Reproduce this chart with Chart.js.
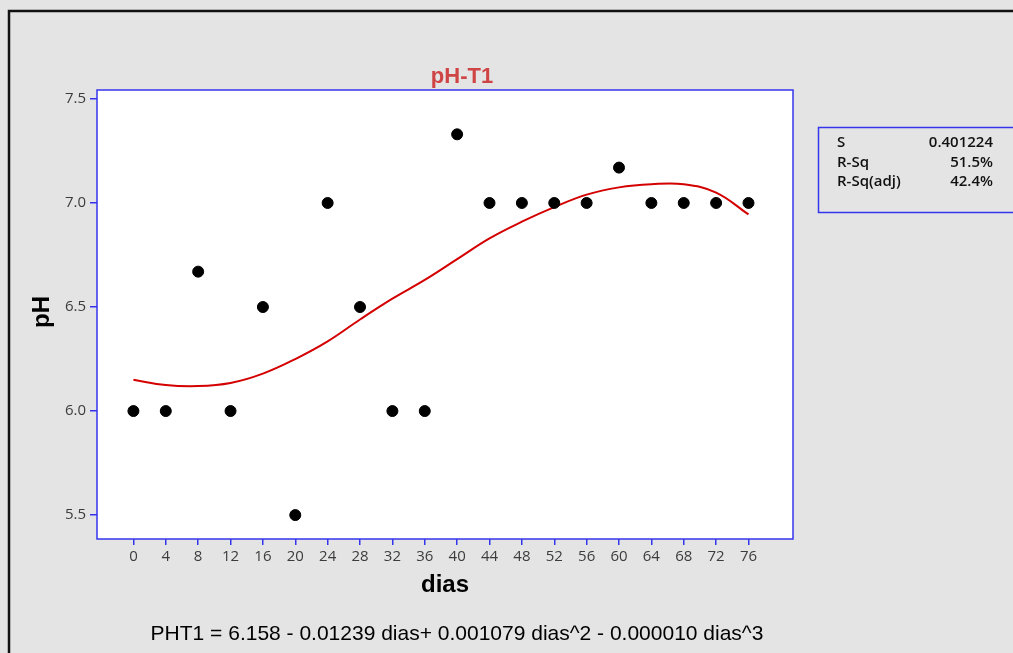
<!DOCTYPE html>
<html>
<head>
<meta charset="utf-8">
<title>pH-T1</title>
<script src="https://cdn.jsdelivr.net/npm/chart.js@4.4.0/dist/chart.umd.min.js"></script>
<style>
  body { margin: 0; background: #e4e4e4; }
  #wrap { width: 1013px; height: 653px; }
</style>
</head>
<body>
<div id="wrap"><canvas id="phChart" width="1013" height="653"></canvas></div>
<script>
// observed values
const dias = [0, 4, 8, 12, 16, 20, 24, 28, 32, 36, 40, 44, 48, 52, 56, 60, 64, 68, 72, 76];
const phValues = [6.0, 6.0, 6.67, 6.0, 6.5, 5.5, 7.0, 6.5, 6.0, 6.0, 7.33, 7.0, 7.0, 7.0, 7.0, 7.17, 7.0, 7.0, 7.0, 7.0];

// fitted curve
const fitDias = [0, 4, 8, 12, 16, 20, 24, 28, 32, 36, 40, 44, 48, 52, 56, 60, 64, 68, 72, 76];
const fitValues = [6.15, 6.125, 6.12, 6.135, 6.18, 6.25, 6.335, 6.44, 6.54, 6.63, 6.73, 6.83, 6.91, 6.98, 7.04, 7.075, 7.09, 7.09, 7.05, 6.945];

const xTicks = [0, 4, 8, 12, 16, 20, 24, 28, 32, 36, 40, 44, 48, 52, 56, 60, 64, 68, 72, 76];
const yTicks = [5.5, 6.0, 6.5, 7.0, 7.5];

const statLabels = ["S", "R-Sq", "R-Sq(adj)"];
const statValues = ["0.401224", "51.5%", "42.4%"];

const chartTitle = "pH-T1";
const xTitle = "dias";
const yTitle = "pH";
const equation = "PHT1 = 6.158 - 0.01239 dias+ 0.001079 dias^2 - 0.000010 dias^3";

const blue = "#3535ee";

const decorPlugin = {
  id: "decor",
  beforeDraw(chart) {
    const ctx = chart.ctx;
    const a = chart.chartArea;
    ctx.save();
    ctx.fillStyle = "#e4e4e4";
    ctx.fillRect(0, 0, chart.width, chart.height);
    // outer frame
    ctx.strokeStyle = "#111";
    ctx.lineWidth = 2.5;
    ctx.beginPath();
    ctx.moveTo(9, chart.height);
    ctx.lineTo(9, 11);
    ctx.lineTo(chart.width, 11);
    ctx.stroke();
    ctx.fillStyle = "#ffffff";
    ctx.fillRect(a.left, a.top, a.right - a.left, a.bottom - a.top);
    ctx.restore();
  },
  afterDraw(chart) {
    const ctx = chart.ctx;
    const a = chart.chartArea;
    ctx.save();
    ctx.strokeStyle = blue;
    ctx.lineWidth = 1.5;
    ctx.strokeRect(a.left, a.top, a.right - a.left, a.bottom - a.top);

    // title
    ctx.fillStyle = "#cf4444";
    ctx.font = "bold 22px 'Liberation Sans', Arial, sans-serif";
    ctx.textAlign = "center";
    ctx.textBaseline = "alphabetic";
    ctx.fillText(chartTitle, 462, 83);

    // axis titles
    ctx.fillStyle = "#000";
    ctx.font = "bold 24px 'Liberation Sans', Arial, sans-serif";
    ctx.fillText(xTitle, 445, 592);
    ctx.save();
    ctx.translate(49, 312);
    ctx.rotate(-Math.PI / 2);
    ctx.fillText(yTitle, 0, 0);
    ctx.restore();

    // regression equation
    ctx.font = "21px 'Liberation Sans', Arial, sans-serif";
    ctx.fillText(equation, 457, 640);

    // stats box
    ctx.strokeStyle = blue;
    ctx.lineWidth = 1.5;
    ctx.strokeRect(818.5, 127.5, 230, 85);
    ctx.fillStyle = "#111";
    ctx.font = "600 15px 'Open Sans', 'Noto Sans', sans-serif";
    statLabels.forEach((lab, i) => {
      const y = 147 + i * 19.5;
      ctx.textAlign = "left";
      ctx.fillText(lab, 837, y);
      ctx.textAlign = "right";
      ctx.fillText(statValues[i], 993, y);
    });
    ctx.restore();
  }
};

new Chart(document.getElementById("phChart"), {
  type: "scatter",
  data: {
    datasets: [
      {
        label: "pH",
        data: dias.map((d, i) => ({ x: d, y: phValues[i] })),
        backgroundColor: "#000",
        borderColor: "#000",
        pointRadius: 5.5,
        pointHoverRadius: 5.5,
        order: 1
      },
      {
        label: "fit",
        data: fitDias.map((d, i) => ({ x: d, y: fitValues[i] })),
        showLine: true,
        borderColor: "#d40000",
        borderWidth: 2,
        pointRadius: 0,
        tension: 0.4,
        fill: false,
        order: 2
      }
    ]
  },
  options: {
    responsive: false,
    animation: false,
    devicePixelRatio: 1,
    layout: { padding: { left: 0, top: 90, right: 220, bottom: 0 } },
    plugins: {
      legend: { display: false },
      title: { display: false },
      tooltip: { enabled: false }
    },
    scales: {
      x: {
        type: "linear",
        min: -4.5,
        max: 81.5,
        afterBuildTicks: (scale) => { scale.ticks = xTicks.map(v => ({ value: v })); },
        afterFit: (scale) => { scale.height = 114; },
        grid: { display: true, drawOnChartArea: false, drawTicks: true, tickLength: 6, color: blue, lineWidth: 1.5 },
        border: { display: false },
        ticks: {
          padding: 3,
          color: "#3c3c3c",
          font: { family: "'Open Sans', 'Noto Sans', sans-serif", size: 15 },
          maxRotation: 0,
          autoSkip: false
        }
      },
      y: {
        type: "linear",
        min: 5.385,
        max: 7.543,
        afterBuildTicks: (scale) => { scale.ticks = yTicks.map(v => ({ value: v })); },
        afterFit: (scale) => { scale.width = 97; },
        grid: { display: true, drawOnChartArea: false, drawTicks: true, tickLength: 7, color: blue, lineWidth: 1.5 },
        border: { display: false },
        ticks: {
          padding: 4,
          color: "#3c3c3c",
          font: { family: "'Open Sans', 'Noto Sans', sans-serif", size: 15 },
          callback: (v) => Number(v).toFixed(1),
          autoSkip: false
        }
      }
    }
  },
  plugins: [decorPlugin]
});
</script>
</body>
</html>
